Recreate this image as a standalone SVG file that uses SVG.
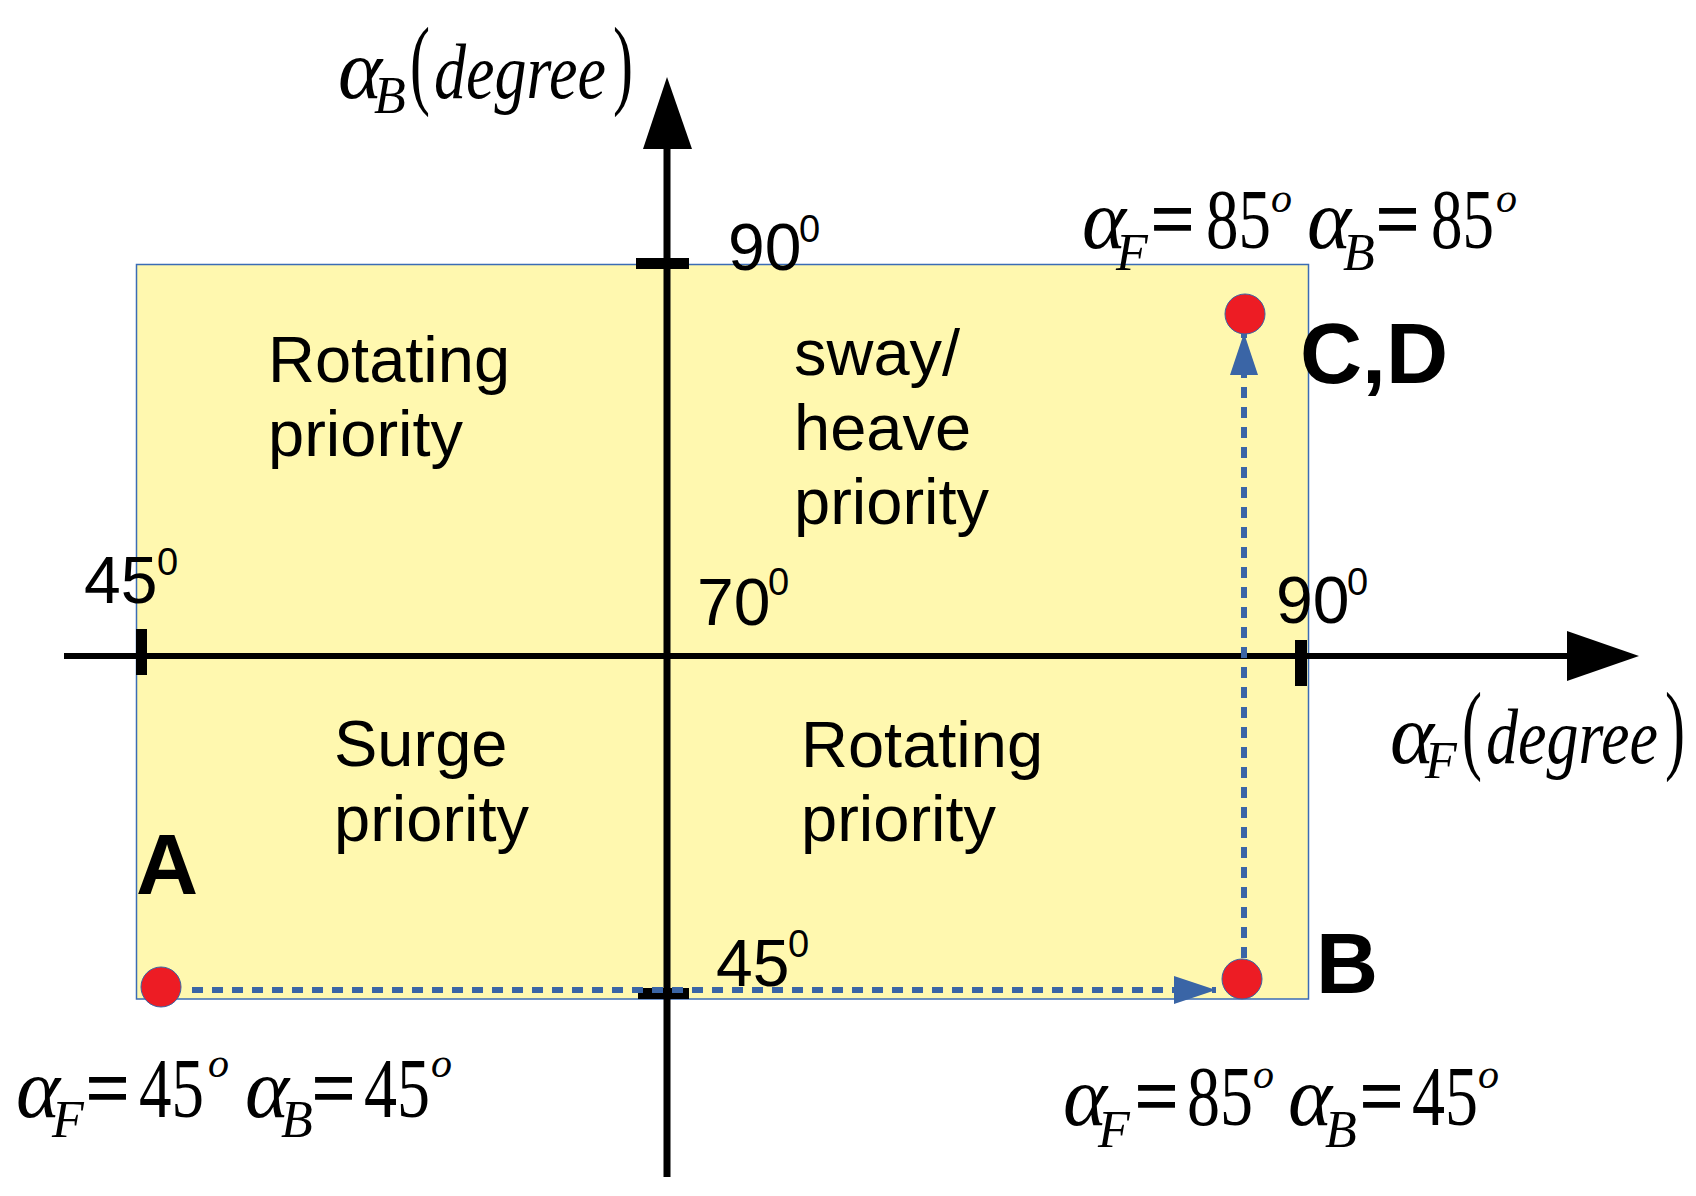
<svg xmlns="http://www.w3.org/2000/svg" width="1696" height="1196" viewBox="0 0 1696 1196">
<style>
.sans{font-family:"Liberation Sans",Arial,sans-serif;fill:#000}
.q{font-size:65px}
.ax{font-size:66px}
.sup{font-size:38px}
.bold{font-family:"Liberation Sans",Arial,sans-serif;font-weight:bold;font-size:86px;fill:#000}
.eq{font-family:"Liberation Serif","Times New Roman",serif;fill:#000;font-size:84px}
.it{font-style:italic}
.sub{font-size:52px;font-style:italic}
.so{font-size:42px;font-style:italic}
.par{font-size:100px}
.dg{font-size:78px;font-style:italic}
.es{stroke:#000;stroke-width:1.6}
.blk{fill:#000}
.dash{stroke:#3a65a6;stroke-width:6;stroke-dasharray:11 9;fill:none}
.dot{fill:#ed1c24;stroke:#3a65a6;stroke-width:1}
</style>
<defs>
<marker id="barrow" markerUnits="userSpaceOnUse" markerWidth="44" markerHeight="30" refX="42" refY="14" orient="auto">
<path d="M0,0 L42,14 L0,28 Z" fill="#3a65a6"/>
</marker>
</defs>

<rect id="region" x="136.5" y="264.5" width="1172" height="734.5" fill="#fff8af" stroke="#3b6cb5" stroke-width="1.5"/>

<g id="axes">
<rect x="64" y="653" width="1506" height="6" class="blk"/>
<polygon points="1639,656 1567,631 1567,681" class="blk"/>
<rect x="663.5" y="140" width="7" height="1037" class="blk"/>
<polygon points="667,77 643,149 692,149" class="blk"/>
<rect x="136" y="629" width="11" height="46" class="blk"/>
<rect x="1295" y="640" width="12" height="46" class="blk"/>
<rect x="636" y="258" width="53" height="11" class="blk"/>
<rect x="638" y="988" width="51" height="11" class="blk"/>
</g>

<g id="axis-labels">
<text class="sans ax" x="84" y="603">45<tspan class="sup" x="157" y="575">0</tspan></text>
<text class="sans ax" x="697" y="625">70<tspan class="sup" x="768" y="595">0</tspan></text>
<text class="sans ax" x="1276" y="623">90<tspan class="sup" x="1347" y="595">0</tspan></text>
<text class="sans ax" x="728" y="270">90<tspan class="sup" x="799" y="242">0</tspan></text>
<text class="sans ax" x="716" y="986">45<tspan class="sup" x="788" y="957">0</tspan></text>
</g>

<g id="label-alphaB-axis">
<text class="eq"><tspan class="it" x="338" y="98">α</tspan><tspan class="sub" x="374" y="113">B</tspan><tspan class="par" x="410" y="96" textLength="20" lengthAdjust="spacingAndGlyphs">(</tspan><tspan class="dg" x="434" y="98" textLength="172" lengthAdjust="spacingAndGlyphs">degree</tspan><tspan class="par" x="613" y="96" textLength="20" lengthAdjust="spacingAndGlyphs">)</tspan></text>
</g>

<g id="label-alphaF-axis">
<text class="eq"><tspan class="it" x="1390" y="763">α</tspan><tspan class="sub" x="1425" y="778">F</tspan><tspan class="par" x="1462" y="761" textLength="20" lengthAdjust="spacingAndGlyphs">(</tspan><tspan class="dg" x="1486" y="763" textLength="172" lengthAdjust="spacingAndGlyphs">degree</tspan><tspan class="par" x="1665" y="761" textLength="20" lengthAdjust="spacingAndGlyphs">)</tspan></text>
</g>

<g id="quadrant-ul">
<text class="sans q" x="268" y="382">Rotating</text>
<text class="sans q" x="268" y="456">priority</text>
</g>
<g id="quadrant-ur">
<text class="sans q" x="794" y="375">sway/</text>
<text class="sans q" x="794" y="450">heave</text>
<text class="sans q" x="794" y="524">priority</text>
</g>
<g id="quadrant-ll">
<text class="sans q" x="334" y="766">Surge</text>
<text class="sans q" x="334" y="841">priority</text>
</g>
<g id="quadrant-lr">
<text class="sans q" x="801" y="767">Rotating</text>
<text class="sans q" x="801" y="841">priority</text>
</g>

<g id="connectors">
<line class="dash" x1="192" y1="990" x2="1216" y2="990" marker-end="url(#barrow)"/>
<line class="dash" x1="1244" y1="958" x2="1244" y2="333" marker-end="url(#barrow)"/>
</g>

<g id="point-A">
<circle class="dot" cx="161" cy="987" r="20"/>
<text class="bold" x="136" y="894">A</text>
<text class="eq"><tspan class="it" x="16" y="1117">α</tspan><tspan class="sub" x="52" y="1137">F</tspan><tspan class="es" x="86" y="1117" textLength="43" lengthAdjust="spacingAndGlyphs">=</tspan><tspan x="139" y="1117" textLength="65" lengthAdjust="spacingAndGlyphs">45</tspan><tspan class="so" x="208" y="1077">o</tspan><tspan class="it" x="245" y="1117">α</tspan><tspan class="sub" x="281" y="1137">B</tspan><tspan class="es" x="312" y="1117" textLength="43" lengthAdjust="spacingAndGlyphs">=</tspan><tspan x="364" y="1117" textLength="66" lengthAdjust="spacingAndGlyphs">45</tspan><tspan class="so" x="431" y="1077">o</tspan></text>
</g>

<g id="point-B">
<circle class="dot" cx="1242" cy="979" r="20"/>
<text class="bold" x="1316" y="993">B</text>
<text class="eq"><tspan class="it" x="1063" y="1125">α</tspan><tspan class="sub" x="1098" y="1147">F</tspan><tspan class="es" x="1135" y="1125" textLength="43" lengthAdjust="spacingAndGlyphs">=</tspan><tspan x="1187" y="1125" textLength="66" lengthAdjust="spacingAndGlyphs">85</tspan><tspan class="so" x="1253" y="1088">o</tspan><tspan class="it" x="1288" y="1125">α</tspan><tspan class="sub" x="1325" y="1147">B</tspan><tspan class="es" x="1360" y="1125" textLength="43" lengthAdjust="spacingAndGlyphs">=</tspan><tspan x="1412" y="1125" textLength="66" lengthAdjust="spacingAndGlyphs">45</tspan><tspan class="so" x="1478" y="1088">o</tspan></text>
</g>

<g id="point-CD">
<circle class="dot" cx="1245" cy="314" r="20"/>
<text class="bold" x="1300" y="383">C,D</text>
<text class="eq"><tspan class="it" x="1082" y="248">α</tspan><tspan class="sub" x="1116" y="270">F</tspan><tspan class="es" x="1151" y="248" textLength="43" lengthAdjust="spacingAndGlyphs">=</tspan><tspan x="1206" y="248" textLength="65" lengthAdjust="spacingAndGlyphs">85</tspan><tspan class="so" x="1271" y="212">o</tspan><tspan class="it" x="1307" y="248">α</tspan><tspan class="sub" x="1343" y="270">B</tspan><tspan class="es" x="1376" y="248" textLength="43" lengthAdjust="spacingAndGlyphs">=</tspan><tspan x="1431" y="248" textLength="63" lengthAdjust="spacingAndGlyphs">85</tspan><tspan class="so" x="1496" y="212">o</tspan></text>
</g>
</svg>
